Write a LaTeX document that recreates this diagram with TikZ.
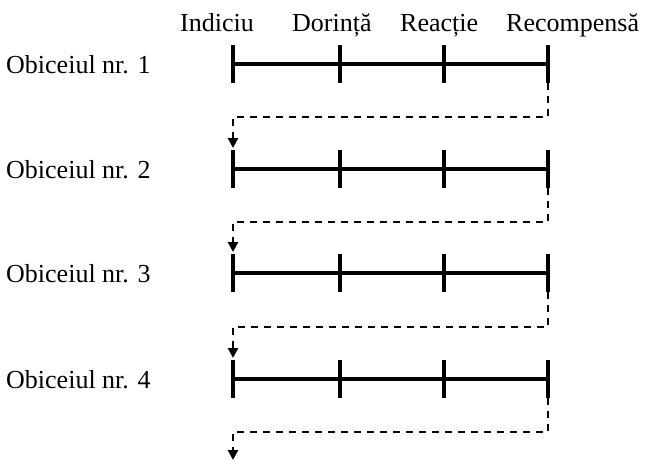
\documentclass[tikz,border=0pt]{standalone}
\usepackage{fontspec}
\setmainfont{Liberation Serif}
\usetikzlibrary{arrows.meta}

\begin{document}
\begin{tikzpicture} [x=1pt, y=-1pt,
    lbl/.style={anchor=base west, inner sep=0pt, font=\fontsize{26}{30}\selectfont},
    tk/.style={inner sep=0pt, minimum width=0pt, minimum height=37pt},
    bar/.style={line width=3.4pt},
    link/.style={line width=2.5pt, dash pattern=on 7pt off 6pt, -{Triangle[length=10pt,width=10pt]}}]
  \useasboundingbox (0,0) rectangle (647,460);
  % header
  \node[lbl] (hI) at (180,32) {Indiciu};
  \node[lbl] (hD) at (292,32) {Dorință};
  \node[lbl] (hR) at (400,32) {Reacție};
  \node[lbl] (hC) at (506,32) {Recompensă};
  % row labels
  \node[lbl] (o1) at (6,73) {Obiceiul nr. 1};
  \node[lbl] (o2) at (6,178) {Obiceiul nr. 2};
  \node[lbl] (o3) at (6,282) {Obiceiul nr. 3};
  \node[lbl] (o4) at (6,388) {Obiceiul nr. 4};
  % ticks
  \path (233,64)  node[tk](A1){} ++(107,0) node[tk](B1){} ++(104,0) node[tk](C1){} ++(104,0) node[tk](D1){};
  \path (233,169) node[tk](A2){} ++(107,0) node[tk](B2){} ++(104,0) node[tk](C2){} ++(104,0) node[tk](D2){};
  \path (233,273) node[tk](A3){} ++(107,0) node[tk](B3){} ++(104,0) node[tk](C3){} ++(104,0) node[tk](D3){};
  \path (233,379) node[tk](A4){} ++(107,0) node[tk](B4){} ++(104,0) node[tk](C4){} ++(104,0) node[tk](D4){};
  \draw[bar] (A1) -- (D1);
  \draw[bar] (A2) -- (D2);
  \draw[bar] (A3) -- (D3);
  \draw[bar] (A4) -- (D4);
  \draw[bar] (A1.north) -- (A1.south) (B1.north) -- (B1.south) (C1.north) -- (C1.south) (D1.north) -- (D1.south);
  \draw[bar] (A2.north) -- (A2.south) (B2.north) -- (B2.south) (C2.north) -- (C2.south) (D2.north) -- (D2.south);
  \draw[bar] (A3.north) -- (A3.south) (B3.north) -- (B3.south) (C3.north) -- (C3.south) (D3.north) -- (D3.south);
  \draw[bar] (A4.north) -- (A4.south) (B4.north) -- (B4.south) (C4.north) -- (C4.south) (D4.north) -- (D4.south);
  % dashed links
  \coordinate (t1) at (548,117); \coordinate (e1) at (233,148);
  \coordinate (t2) at (548,222); \coordinate (e2) at (233,252);
  \coordinate (t3) at (548,327); \coordinate (e3) at (233,358);
  \coordinate (t4) at (548,432); \coordinate (e4) at (233,460);
  \draw[link] (D1.south) -- (t1) -| (e1);
  \draw[link] (D2.south) -- (t2) -| (e2);
  \draw[link] (D3.south) -- (t3) -| (e3);
  \draw[link] (D4.south) -- (t4) -| (e4);
\end{tikzpicture}
\end{document}
